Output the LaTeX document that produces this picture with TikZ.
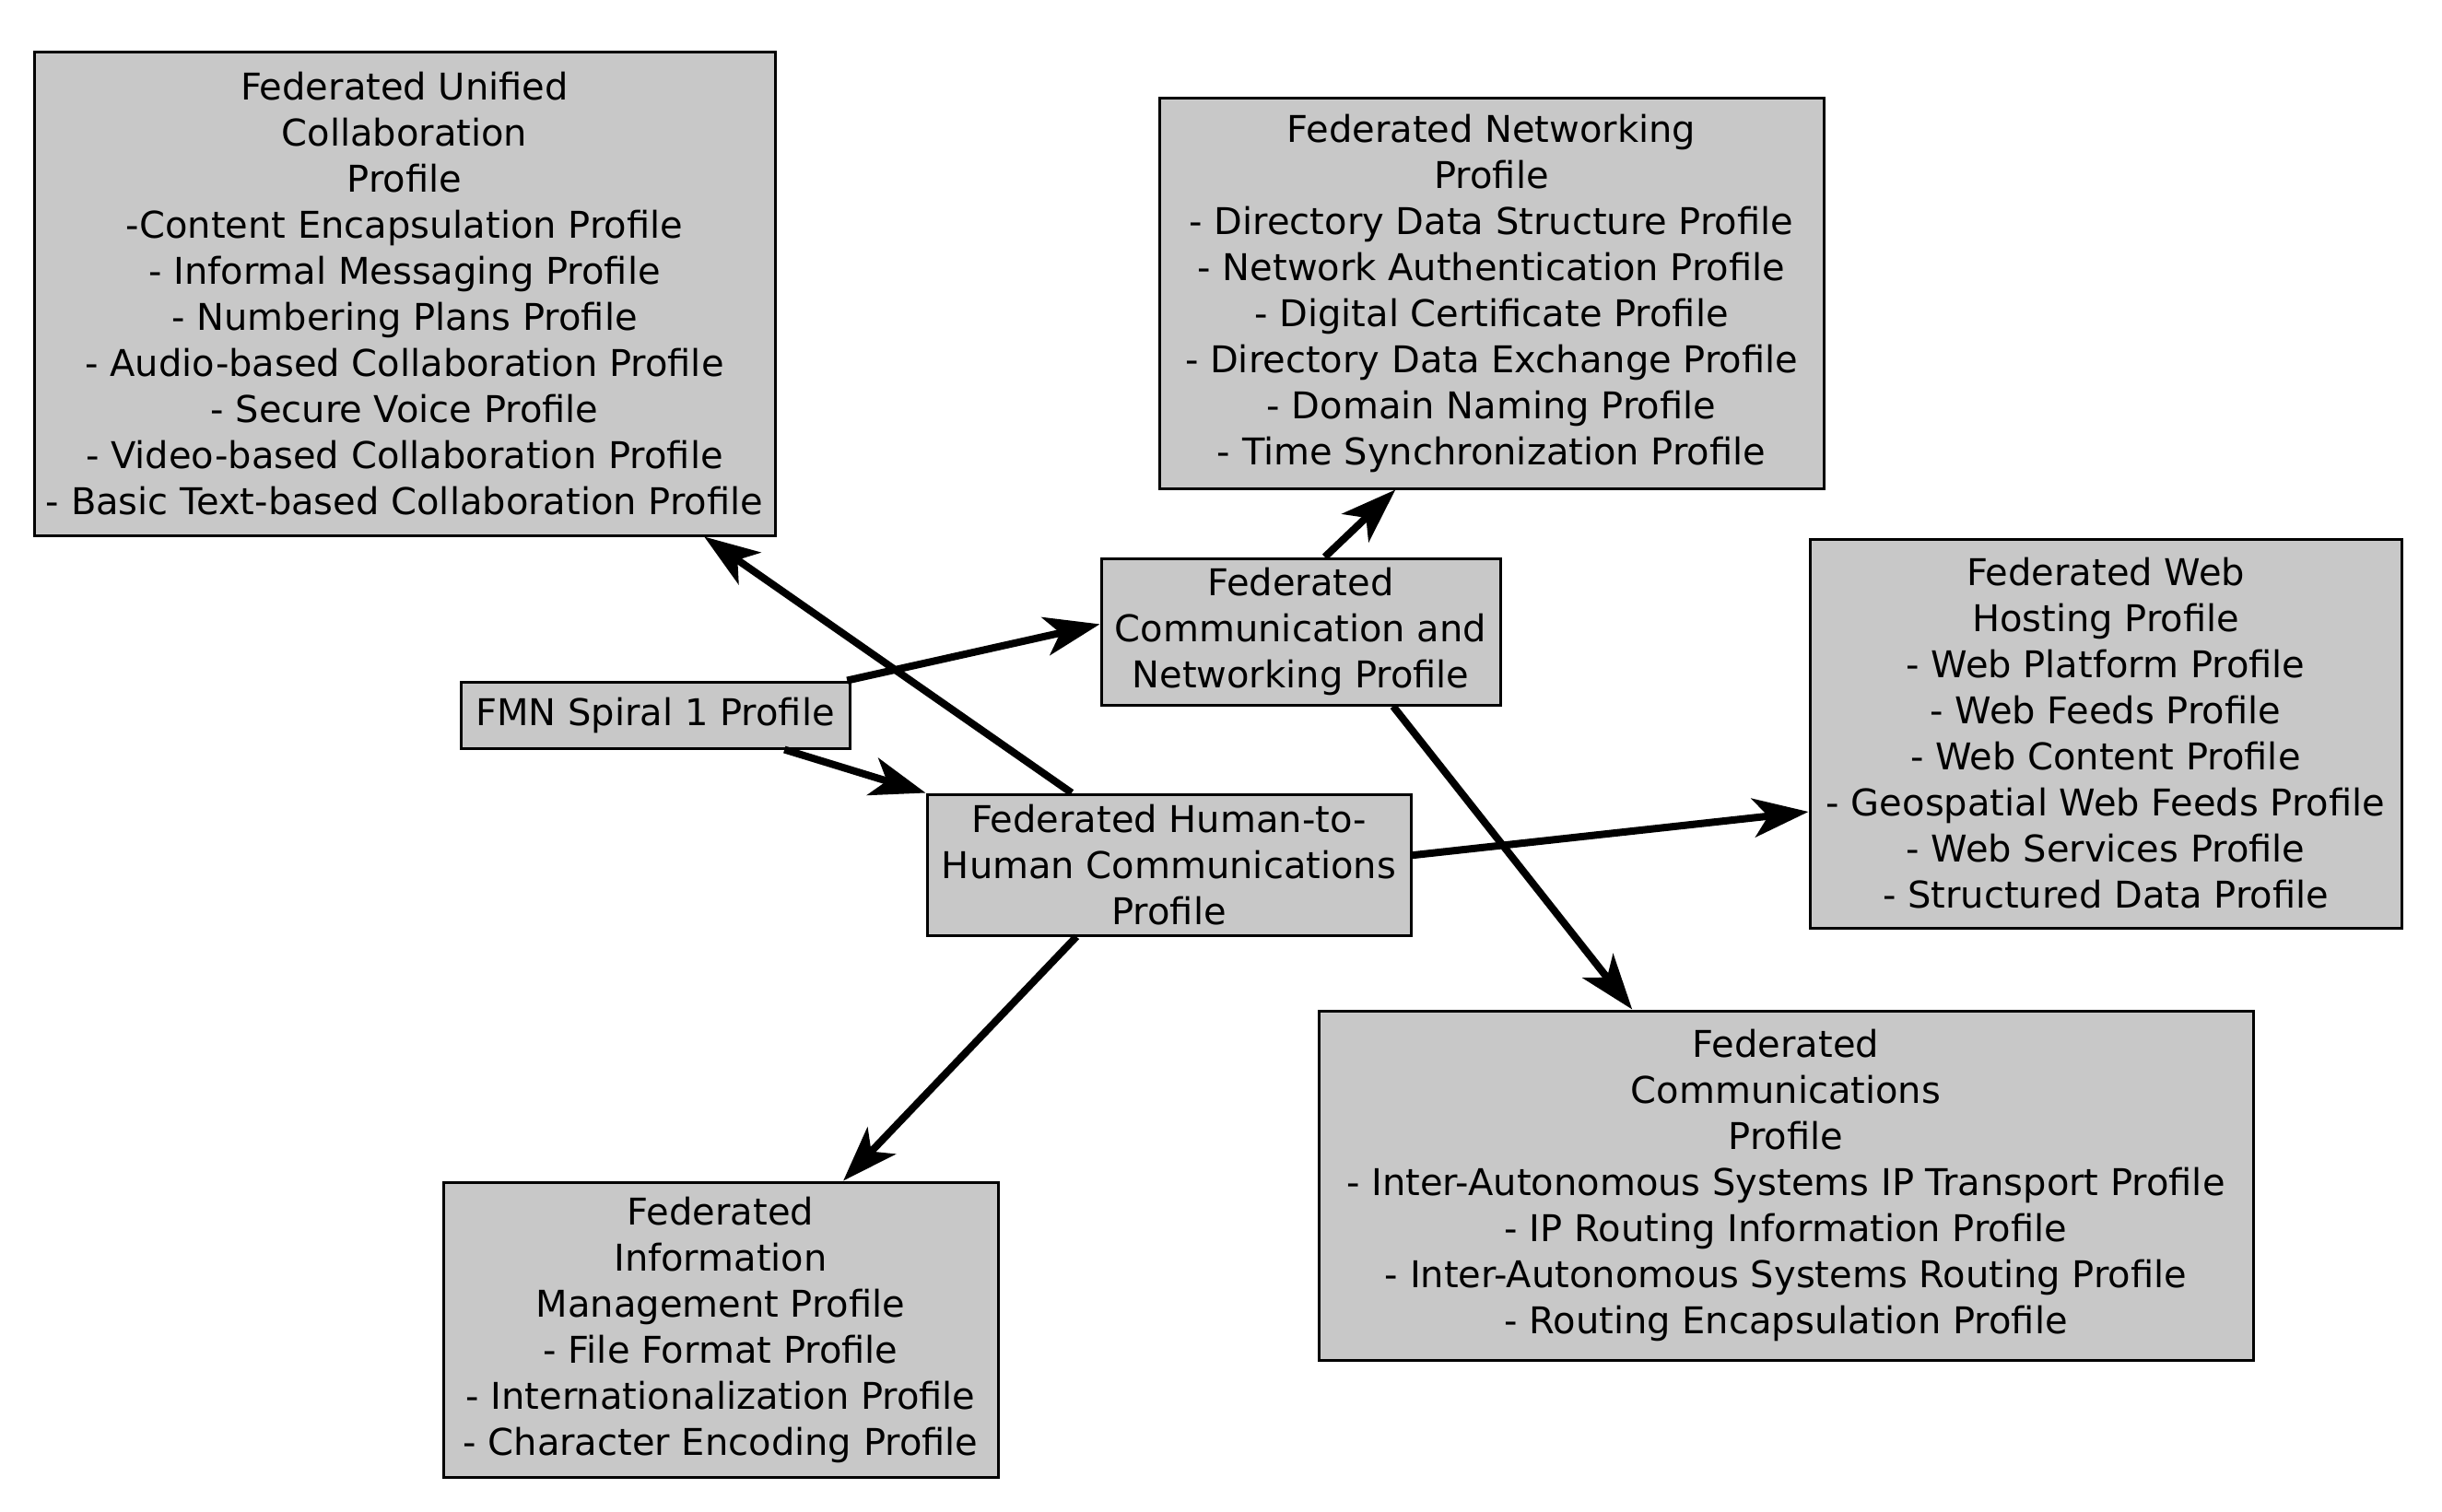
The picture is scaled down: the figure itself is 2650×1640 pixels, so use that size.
\documentclass[tikz,border=0pt]{standalone}
\usepackage{fontspec}
\setmainfont{DejaVu Sans}
\usetikzlibrary{arrows.meta,calc}
\definecolor{boxgray}{RGB}{200,200,200}
\tikzset{
  pbox/.style={draw=black, fill=boxgray, line width=1.5pt, rectangle, inner sep=0pt,
    align=center, text=black, font=\fontsize{20}{25}\selectfont},
  edge/.style={line width=4pt, draw=black, -{Stealth[length=30pt,width=21pt,inset=8pt]}}
}
\begin{document}
\begin{tikzpicture}[x=0.5pt,y=-0.5pt]
\path[use as bounding box] (0,0) rectangle (2650,1640);
\node[pbox, minimum width=402pt, minimum height=262.5pt] (uc) at (439,318.5)
 {Federated Unified\\Collaboration\\Profile\\-Content Encapsulation Profile\\- Informal Messaging Profile\\- Numbering Plans Profile\\- Audio-based Collaboration Profile\\- Secure Voice Profile\\- Video-based Collaboration Profile\\- Basic Text-based Collaboration Profile};
\node[pbox, minimum width=360.5pt, minimum height=212pt] (net) at (1618.5,318)
 {Federated Networking\\Profile\\- Directory Data Structure Profile\\- Network Authentication Profile\\- Digital Certificate Profile\\- Directory Data Exchange Profile\\- Domain Naming Profile\\- Time Synchronization Profile};
\node[pbox, minimum width=216.5pt, minimum height=79.5pt] (cn) at (1411.5,685.5)
 {Federated\\Communication and\\Networking Profile};
\node[pbox, minimum width=211pt, minimum height=36pt] (fmn) at (711,776)
 {FMN Spiral 1 Profile};
\node[pbox, minimum width=262.5pt, minimum height=76.5pt] (h2h) at (1268.5,938.5)
 {Federated Human-to-\\Human Communications\\Profile};
\node[pbox, minimum width=321pt, minimum height=211pt] (web) at (2285,796)
 {Federated Web\\Hosting Profile\\- Web Platform Profile\\- Web Feeds Profile\\- Web Content Profile\\- Geospatial Web Feeds Profile\\- Web Services Profile\\- Structured Data Profile};
\node[pbox, minimum width=301pt, minimum height=160pt] (fim) at (782,1443)
 {Federated\\Information\\Management Profile\\- File Format Profile\\- Internationalization Profile\\- Character Encoding Profile};
\node[pbox, minimum width=507pt, minimum height=189.5pt] (fc) at (1938,1286.5)
 {Federated\\Communications\\Profile\\- Inter-Autonomous Systems IP Transport Profile\\- IP Routing Information Profile\\- Inter-Autonomous Systems Routing Profile\\- Routing Encapsulation Profile};
% edges
\draw[edge] ($(fmn.north west)!0.99!(fmn.north east)$) -- ($(cn.north west)!0.45!(cn.south west)$);
\draw[edge] ($(fmn.south west)!0.83!(fmn.south east)$) -- (h2h.north west);
\draw[edge] ($(h2h.north west)!0.30!(h2h.north east)$) -- ($(uc.south west)!0.903!(uc.south east)$);
\draw[edge] ($(cn.north west)!0.56!(cn.north east)$) -- ($(net.south west)!0.356!(net.south east)$);
\draw[edge] ($(cn.south west)!0.73!(cn.south east)$) -- ($(fc.north west)!0.336!(fc.north east)$);
\draw[edge] ($(h2h.north east)!0.434!(h2h.south east)$) -- ($(web.north west)!0.70!(web.south west)$);
\draw[edge] ($(h2h.south west)!0.31!(h2h.south east)$) -- ($(fim.north west)!0.72!(fim.north east)$);
\end{tikzpicture}
\end{document}
